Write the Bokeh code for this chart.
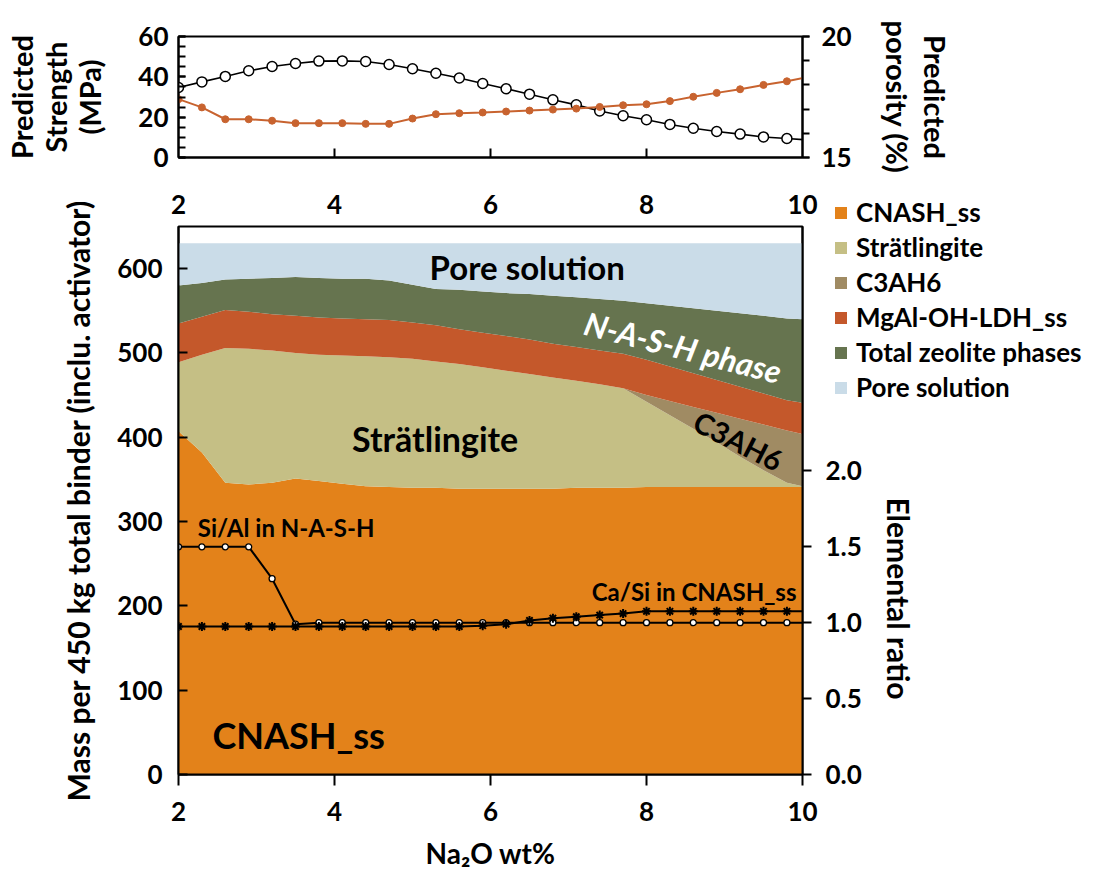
import math
from bokeh.plotting import figure
from bokeh.models import (Range1d, LinearAxis, FixedTicker, Legend, LegendItem, Label,
                          ColumnDataSource, NumeralTickFormatter, GridBox)
from bokeh.embed import file_html
from bokeh.resources import INLINE

FONT = "Lato"

# ---------------- top panel data ----------------
na2o_top = [2.0, 2.3, 2.6, 2.9, 3.2, 3.5, 3.8, 4.1, 4.4, 4.7, 5.0, 5.3, 5.6, 5.9,
            6.2, 6.5, 6.8, 7.1, 7.4, 7.7, 8.0, 8.3, 8.6, 8.9, 9.2, 9.5, 9.8, 10.1]
strength = [34.7, 37.5, 40.2, 43.0, 45.1, 46.6, 47.8, 47.9, 47.6, 46.1, 44.0, 41.8, 39.4, 36.7,
            34.1, 31.4, 28.6, 26.1, 23.1, 20.7, 18.7, 16.4, 14.5, 12.9, 11.6, 10.2, 9.4, 8.6]
porosity = [17.41, 17.07, 16.58, 16.58, 16.52, 16.42, 16.42, 16.42, 16.39, 16.39, 16.61, 16.79,
            16.83, 16.86, 16.90, 16.94, 16.98, 17.02, 17.09, 17.16, 17.20, 17.33, 17.51, 17.67,
            17.82, 18.00, 18.15, 18.35]

# ---------------- bottom panel data ----------------
na2o_phase = [2.0, 2.3, 2.6, 2.9, 3.2, 3.5, 3.8, 4.1, 4.4, 4.7, 5.0, 5.3, 5.6, 5.9,
              6.2, 6.5, 6.8, 7.1, 7.4, 7.7, 8.0, 8.3, 8.6, 8.9, 9.2, 9.5, 9.8, 10.0]
cnash_ss = [407, 382, 346, 344, 346, 351, 348, 345, 342, 341, 340, 340, 339, 339,
            339, 339, 339, 340, 340, 340, 341, 341, 341, 341, 341, 341, 341, 341]
stratlingite = [82, 116, 160, 161, 157, 149, 150, 152, 154, 154, 153, 150, 148, 144,
                140, 136, 132, 127, 123, 118, 101, 85, 69, 53, 36, 20, 5, 1]
c3ah6 = [0, 0, 0, 0, 0, 0, 0, 0, 0, 0, 0, 0, 0, 0,
         0, 0, 0, 0, 0, 0, 8, 17, 26, 35, 45, 54, 62, 62]
ldh = [46, 45, 45, 44, 43, 44, 44, 44, 44, 44, 43, 43, 41, 41,
       41, 41, 40, 40, 40, 41, 42, 41, 40, 39, 38, 37, 36, 37]
zeolite = [45, 40, 36, 39, 43, 46, 47, 47, 48, 47, 45, 43, 47, 49,
           51, 54, 57, 59, 61, 63, 67, 72, 77, 82, 87, 92, 97, 99]
pore_solution = [50, 47, 43, 42, 41, 40, 41, 42, 42, 44, 49, 54, 55, 57,
                 59, 60, 62, 64, 66, 68, 71, 74, 77, 80, 83, 86, 89, 90]

phase_names = ["CNASH_ss", "Strätlingite", "C3AH6", "MgAl-OH-LDH_ss",
               "Total zeolite phases", "Pore solution"]
phase_colors = ["#E3821A", "#C5BF85", "#A08B63", "#C4582B", "#66744F", "#CADCE8"]

na2o_ratio = [2.0, 2.3, 2.6, 2.9, 3.2, 3.5, 3.8, 4.1, 4.4, 4.7, 5.0, 5.3, 5.6, 5.9,
              6.2, 6.5, 6.8, 7.1, 7.4, 7.7, 8.0, 8.3, 8.6, 8.9, 9.2, 9.5, 9.8, 10.1]
si_al_nash = [1.5, 1.5, 1.5, 1.5, 1.29, 0.99, 1.0, 1.0, 1.0, 1.0, 1.0, 1.0, 1.0, 1.0,
              1.0, 1.0, 1.0, 1.0, 1.0, 1.0, 1.0, 1.0, 1.0, 1.0, 1.0, 1.0, 1.0, 1.0]
ca_si_cnash = [0.975, 0.975, 0.975, 0.975, 0.975, 0.975, 0.975, 0.975, 0.975, 0.975, 0.975,
               0.975, 0.975, 0.98, 0.99, 1.015, 1.03, 1.04, 1.05, 1.06, 1.075, 1.075, 1.075,
               1.075, 1.075, 1.075, 1.075, 1.075]

x_ticks = [2, 4, 6, 8, 10]
mass_ticks = [0, 100, 200, 300, 400, 500, 600]
ratio_ticks = [0.0, 0.5, 1.0, 1.5, 2.0]
strength_ticks = [0, 20, 40, 60]
porosity_ticks = [15, 20]

ORANGE_LINE = "#C8632F"


def style_axis(ax, size="26px", title_size="29px"):
    ax.major_label_text_font = FONT
    ax.major_label_text_font_style = "bold"
    ax.major_label_text_font_size = size
    ax.major_label_text_color = "black"
    ax.axis_label_text_font = FONT
    ax.axis_label_text_font_style = "bold"
    ax.axis_label_text_font_size = title_size
    ax.axis_label_text_color = "black"
    ax.axis_line_width = 2
    ax.axis_line_color = "black"
    ax.major_tick_line_width = 2
    ax.minor_tick_line_width = 2
    ax.major_tick_line_color = "black"
    ax.minor_tick_line_color = "black"


def no_align(fig):
    try:
        fig.frame_align = False
    except Exception:
        pass


# ================= TOP FIGURE =================
p1 = figure(frame_width=624, frame_height=121, min_border_left=178, min_border_right=292,
            min_border_top=36, min_border_bottom=18,
            x_range=Range1d(2, 10), y_range=Range1d(0, 60),
            output_backend="svg", toolbar_location=None, tools="")
p1.extra_y_ranges = {"por": Range1d(15, 20)}
p1.grid.visible = False
p1.outline_line_color = "black"
p1.outline_line_width = 2
p1.background_fill_color = "white"
p1.border_fill_color = "white"

xa = p1.xaxis[0]
style_axis(xa)
xa.ticker = FixedTicker(ticks=[4, 6, 8])
xa.major_tick_in = 9
xa.major_tick_out = 0
xa.minor_tick_in = 0
xa.minor_tick_out = 0
xa.major_label_overrides = {4: "", 6: "", 8: ""}
xa.major_label_standoff = 0

ya = p1.yaxis[0]
style_axis(ya)
ya.ticker = FixedTicker(ticks=strength_ticks, minor_ticks=list(range(0, 61, 5)))
ya.major_tick_in = 7
ya.major_tick_out = 0
ya.minor_tick_in = 7
ya.minor_tick_out = 0
ya.major_label_standoff = 10
ya.axis_label = "Predicted\nStrength\n(MPa)"
ya.axis_label_standoff = 28
ya.axis_label_text_line_height = 0.98

ra = LinearAxis(y_range_name="por")
style_axis(ra)
ra.ticker = FixedTicker(ticks=porosity_ticks, minor_ticks=[15, 16, 17, 18, 19, 20])
ra.major_tick_in = 0
ra.major_tick_out = 7
ra.minor_tick_in = 0
ra.minor_tick_out = 7
ra.major_label_standoff = 12
ra.axis_label = "Predicted\nporosity (%)"
ra.axis_label_standoff = 25
ra.axis_label_text_line_height = 1.1
p1.add_layout(ra, "right")

p1.line(na2o_top, strength, line_color="black", line_width=1.6)
p1.scatter(na2o_top[:-1], strength[:-1], marker="circle", size=10,
           fill_color="white", line_color="black", line_width=1.5)
p1.line(na2o_top, porosity, y_range_name="por", line_color=ORANGE_LINE, line_width=2)
p1.scatter(na2o_top[:-1], porosity[:-1], y_range_name="por", marker="circle", size=7,
           fill_color=ORANGE_LINE, line_color=ORANGE_LINE)

# ================= BOTTOM FIGURE =================
p2 = figure(frame_width=624, frame_height=548, min_border_left=178, min_border_right=292,
            min_border_top=51, min_border_bottom=98,
            x_range=Range1d(2, 10), y_range=Range1d(0, 650),
            output_backend="svg", toolbar_location=None, tools="")
p2.extra_y_ranges = {"ratio": Range1d(0, 3.61)}
p2.grid.visible = False
p2.outline_line_color = "black"
p2.outline_line_width = 2
p2.background_fill_color = "white"
p2.border_fill_color = "white"

src = ColumnDataSource(dict(x=na2o_phase, cnash=cnash_ss, strat=stratlingite, c3ah6=c3ah6,
                            ldh=ldh, zeo=zeolite, pore=pore_solution))
stack_keys = ["cnash", "strat", "c3ah6", "ldh", "zeo", "pore"]
areas = p2.varea_stack(stackers=stack_keys, x="x", color=phase_colors, source=src)

bx = p2.xaxis[0]
style_axis(bx)
bx.ticker = FixedTicker(ticks=x_ticks)
bx.major_tick_in = 0
bx.major_tick_out = 11
bx.minor_tick_in = 0
bx.minor_tick_out = 0
bx.major_label_standoff = 16
bx.axis_label = "Na₂O wt%"
bx.axis_label_text_font_size = "28px"
bx.axis_label_standoff = 12

tx = LinearAxis()
style_axis(tx)
tx.ticker = FixedTicker(ticks=x_ticks)
tx.major_tick_in = 0
tx.major_tick_out = 0
tx.minor_tick_in = 0
tx.minor_tick_out = 0
tx.major_label_standoff = 13
tx.axis_line_color = None
p2.add_layout(tx, "above")

by = p2.yaxis[0]
style_axis(by)
by.ticker = FixedTicker(ticks=mass_ticks)
by.major_tick_in = 9
by.major_tick_out = 0
by.minor_tick_in = 0
by.minor_tick_out = 0
by.major_label_standoff = 16
by.axis_label = "Mass per 450 kg total binder (inclu. activator)"
by.axis_label_text_font_size = "30px"
by.axis_label_standoff = 18

rr = LinearAxis(y_range_name="ratio")
style_axis(rr)
rr.ticker = FixedTicker(ticks=ratio_ticks)
rr.formatter = NumeralTickFormatter(format="0.0")
rr.major_tick_in = 0
rr.major_tick_out = 9
rr.minor_tick_in = 0
rr.minor_tick_out = 0
rr.major_label_standoff = 14
p2.add_layout(rr, "right")

p2.line(na2o_ratio, si_al_nash, y_range_name="ratio", line_color="black", line_width=2)
p2.scatter(na2o_ratio[:-1], si_al_nash[:-1], y_range_name="ratio", marker="circle", size=6,
           fill_color="white", line_color="black", line_width=1.3)
p2.line(na2o_ratio, ca_si_cnash, y_range_name="ratio", line_color="black", line_width=2)
p2.scatter(na2o_ratio[:-1], ca_si_cnash[:-1], y_range_name="ratio", marker="asterisk", size=9,
           line_color="black", line_width=2)


def add_label(fig, text, x, y, size, color="black", angle=0.0, style="bold"):
    fig.add_layout(Label(x=x, y=y, text=text, text_font=FONT, text_font_style=style,
                         text_font_size=size, text_color=color, text_align="center",
                         text_baseline="middle", angle=angle))


add_label(p2, "Pore solution", 6.47, 602, "33px")
add_label(p2, "Strätlingite", 5.29, 398, "34px")
add_label(p2, "CNASH_ss", 3.54, 47, "36px")
add_label(p2, "Si/Al in N-A-S-H", 3.38, 293, "24px")
add_label(p2, "Ca/Si in CNASH_ss", 8.61, 217, "24px")
add_label(p2, "N-A-S-H phase", 8.47, 507, "32px", color="white", angle=-0.25, style="bold italic")
add_label(p2, "C3AH6", 9.18, 396, "29px", angle=-0.47)

# ================= LEGEND (figure overlaid on the bottom panel's right border) =================
pl = figure(width=261, height=210, min_border=0, x_axis_location=None, y_axis_location=None,
            x_range=Range1d(2, 10), y_range=Range1d(-2, -1),
            output_backend="svg", toolbar_location=None, tools="")
no_align(pl)
pl.grid.visible = False
pl.outline_line_color = None
pl.background_fill_alpha = 0
pl.border_fill_alpha = 0
leg_renderers = pl.varea_stack(stackers=stack_keys, x="x", color=phase_colors, source=src)
legend = Legend(items=[LegendItem(label=n, renderers=[r]) for n, r in zip(phase_names, leg_renderers)],
                location="top_left", orientation="vertical", margin=0, padding=0,
                label_text_font=FONT, label_text_font_style="bold", label_text_font_size="26px",
                label_text_color="black",
                glyph_width=15, glyph_height=15, label_height=26, spacing=3, label_standoff=8,
                border_line_color=None, background_fill_alpha=0)
pl.add_layout(legend)

# ================= right-hand axis title of the bottom panel =================
pt = figure(width=40, height=220, min_border=0, x_axis_location=None, y_axis_location=None,
            x_range=Range1d(0, 1), y_range=Range1d(0, 1),
            output_backend="svg", toolbar_location=None, tools="")
no_align(pt)
pt.grid.visible = False
pt.outline_line_color = None
pt.background_fill_alpha = 0
pt.border_fill_alpha = 0
add_label(pt, "Elemental ratio", 0.5, 0.5, "30px", angle=-math.pi / 2)

layout = GridBox(children=[(p1, 0, 0, 1, 4), (p2, 1, 0, 5, 4), (pl, 2, 1, 1, 3), (pt, 4, 2, 1, 1)],
                 rows=["175px", "21px", "210px", "82px", "220px", "auto"],
                 cols=["833px", "45px", "40px", "176px"], spacing=0)
open("out.html", "w").write(file_html(layout, INLINE))
